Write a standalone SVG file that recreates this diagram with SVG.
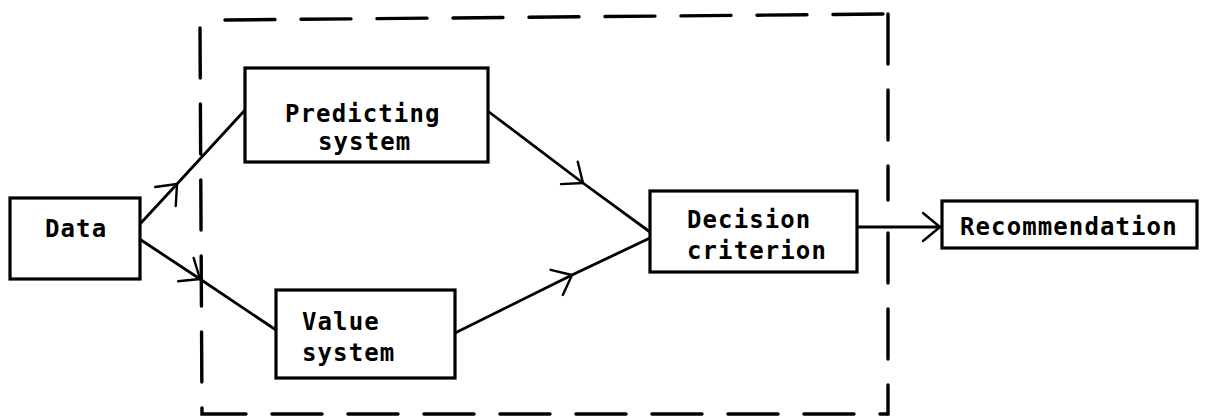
<svg xmlns="http://www.w3.org/2000/svg" width="1205" height="419" viewBox="0 0 1205 419">
<style>
.box{fill:#fff;stroke:#000;stroke-width:3.2}
.t{font-family:"DejaVu Sans Mono","Liberation Mono",monospace;font-size:24px;font-weight:bold;letter-spacing:1.1px;fill:#000}
.c{fill:none;stroke:#000;stroke-width:2.8;stroke-linecap:round}
.dash{fill:none;stroke:#000;stroke-width:3.4;stroke-dasharray:50 26;stroke-linecap:round}
</style>
<defs>
<marker id="chev" markerUnits="userSpaceOnUse" markerWidth="40" markerHeight="40" refX="0" refY="0" viewBox="-20 -20 40 40" orient="auto" overflow="visible">
<path d="M-17,-14 L0,0 L-17,14" fill="none" stroke="#000" stroke-width="2.4" stroke-linecap="round" stroke-linejoin="round"/>
</marker>
</defs>
<g id="boundary">
<path class="dash" d="M225,20 L888,14"/>
<path class="dash" d="M888,14 L888,200"/>
<path class="dash" d="M888,233 L888,414"/>
<path class="dash" d="M200,28 L202,414 L888,414"/>
</g>
<g id="connectors">
<path class="c" d="M140,224 L177,184 L245,110" marker-mid="url(#chev)"/>
<path class="c" d="M141,240 L200,279 L276,330" marker-mid="url(#chev)"/>
<path class="c" d="M489,112 L583,183 L650,232" marker-mid="url(#chev)"/>
<path class="c" d="M455,333 L572,275 L650,238" marker-mid="url(#chev)"/>
<path class="c" d="M857,227 L940,227" marker-end="url(#chev)"/>
</g>
<g id="data">
<rect class="box" x="10" y="198" width="130" height="81"/>
<text class="t" x="45" y="237">Data</text>
</g>
<g id="predicting">
<rect class="box" x="245" y="68" width="243" height="94"/>
<text class="t" x="285" y="122">Predicting</text>
<text class="t" x="318" y="150">system</text>
</g>
<g id="value">
<rect class="box" x="276" y="290" width="179" height="88"/>
<text class="t" x="302" y="330">Value</text>
<text class="t" x="302" y="361">system</text>
</g>
<g id="decision">
<rect class="box" x="650" y="191" width="207" height="81"/>
<text class="t" x="687" y="228">Decision</text>
<text class="t" x="687" y="259">criterion</text>
</g>
<g id="recommendation">
<rect class="box" x="942" y="201" width="255" height="47"/>
<text class="t" x="960" y="235">Recommendation</text>
</g>
</svg>
